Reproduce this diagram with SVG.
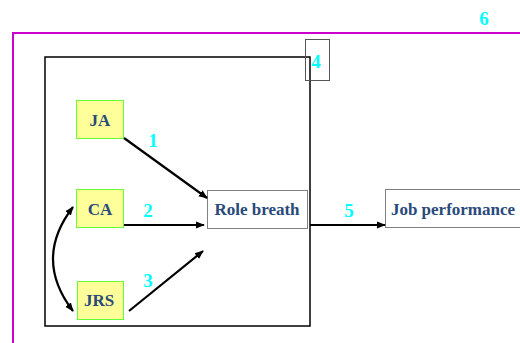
<svg xmlns="http://www.w3.org/2000/svg" width="520" height="343" viewBox="0 0 520 343">
<defs>
<marker id="ah" viewBox="0 0 10 10" refX="9" refY="5" markerWidth="9" markerHeight="9" markerUnits="userSpaceOnUse" orient="auto-start-reverse">
<path d="M0,1 L10,5 L0,9 z" fill="#000"/>
</marker>
<style>
.t{font-family:"Liberation Serif",serif;font-weight:bold;font-size:17px;fill:#2a4a7b;text-anchor:middle}
.n{font-family:"Liberation Serif",serif;font-weight:bold;font-size:19px;fill:#00ffff;text-anchor:middle}
.y{fill:#ffff99;stroke:#66ff33;stroke-width:1}
.w{fill:#fff;stroke:#808080;stroke-width:1}
.c{fill:none;stroke:#000;stroke-width:2.2;marker-end:url(#ah)}
</style>
</defs>
<rect x="0" y="0" width="520" height="343" fill="#fff"/>
<g id="outer">
<path d="M13,343 L13,33 L522,33" fill="none" stroke="#cc00cc" stroke-width="2"/>
<text class="n" x="484" y="25">6</text>
</g>
<g id="box4">
<rect x="45" y="57" width="265" height="269" fill="none" stroke="#000" stroke-width="1.5"/>
<rect x="305.5" y="39.5" width="24" height="41" fill="none" stroke="#555" stroke-width="1"/>
<text class="n" x="316" y="68">4</text>
</g>
<g id="JA"><rect class="y" x="76.5" y="100.5" width="47" height="38"/><text class="t" x="100" y="126">JA</text></g>
<g id="CA"><rect class="y" x="76.5" y="189.5" width="47" height="38"/><text class="t" x="100" y="215">CA</text></g>
<g id="JRS"><rect class="y" x="77.5" y="281.5" width="46" height="38"/><text class="t" x="99" y="306">JRS</text></g>
<g id="RB"><rect class="w" x="207.5" y="190.5" width="100" height="38"/><text class="t" x="257" y="215">Role breath</text></g>
<g id="JP"><rect class="w" x="385.5" y="189.5" width="140" height="38"/><text class="t" x="453" y="215">Job performance</text></g>
<g id="connectors">
<line class="c" x1="124" y1="138" x2="207" y2="198"/>
<line class="c" x1="124" y1="225" x2="204" y2="225"/>
<line class="c" x1="129" y1="311" x2="203" y2="251"/>
<path class="c" d="M73,207 Q33,259 73,311" marker-start="url(#ah)"/>
<line class="c" x1="310" y1="225" x2="385" y2="225"/>
<text class="n" x="153" y="147">1</text>
<text class="n" x="148" y="217">2</text>
<text class="n" x="148" y="287">3</text>
<text class="n" x="349" y="217">5</text>
</g>
</svg>
